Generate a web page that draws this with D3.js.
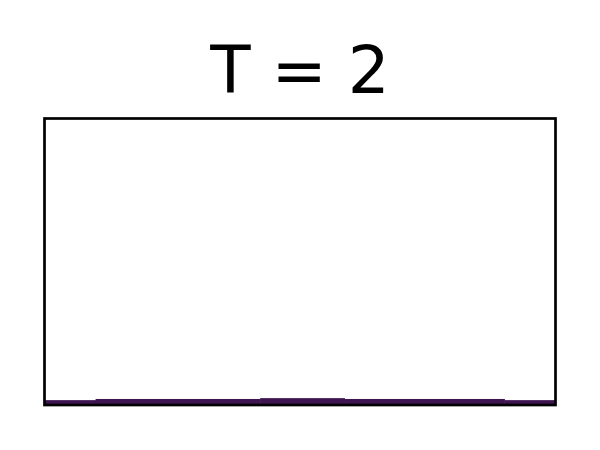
<!DOCTYPE html>
<html>
<head>
<meta charset="utf-8">
<script src="https://cdn.jsdelivr.net/npm/d3@7"></script>
<style>
  html, body { margin: 0; padding: 0; background: #fff; }
  svg { display: block; }
</style>
</head>
<body>
<svg id="chart" width="600" height="450"></svg>
<script>
// Data: step segments (bin edges and heights)
const titleText = "T = 2";
const binEdges = [0, 0.1, 0.422, 0.587, 0.9, 1];
const binValues = [0.017, 0.021, 0.024, 0.021, 0.017];

const W = 600, H = 450;
const frame = { left: 44.5, right: 555.5, top: 118.5, bottom: 405 };

const svg = d3.select("#chart");

const x = d3.scaleLinear().domain([0, 1]).range([frame.left, frame.right]);
const y = d3.scaleLinear().domain([0, 1]).range([frame.bottom, frame.top]);

const bins = binValues.map((v, i) => ({ x0: binEdges[i], x1: binEdges[i + 1], v }));

svg.append("g")
  .selectAll("rect")
  .data(bins)
  .join("rect")
  .attr("x", d => x(d.x0))
  .attr("width", d => x(d.x1) - x(d.x0) + 0.5)
  .attr("y", d => y(d.v))
  .attr("height", d => y(0) - y(d.v))
  .attr("fill", "#3f1551");

// Frame (spines)
svg.append("rect")
  .attr("x", frame.left)
  .attr("y", frame.top)
  .attr("width", frame.right - frame.left)
  .attr("height", frame.bottom - frame.top)
  .attr("fill", "none")
  .attr("stroke", "#000")
  .attr("stroke-width", 2.7);

// Title
svg.append("text")
  .attr("x", (frame.left + frame.right) / 2)
  .attr("y", 93)
  .attr("text-anchor", "middle")
  .attr("font-family", "DejaVu Sans, sans-serif")
  .attr("font-size", 66)
  .attr("fill", "#000")
  .text(titleText);
</script>
</body>
</html>
